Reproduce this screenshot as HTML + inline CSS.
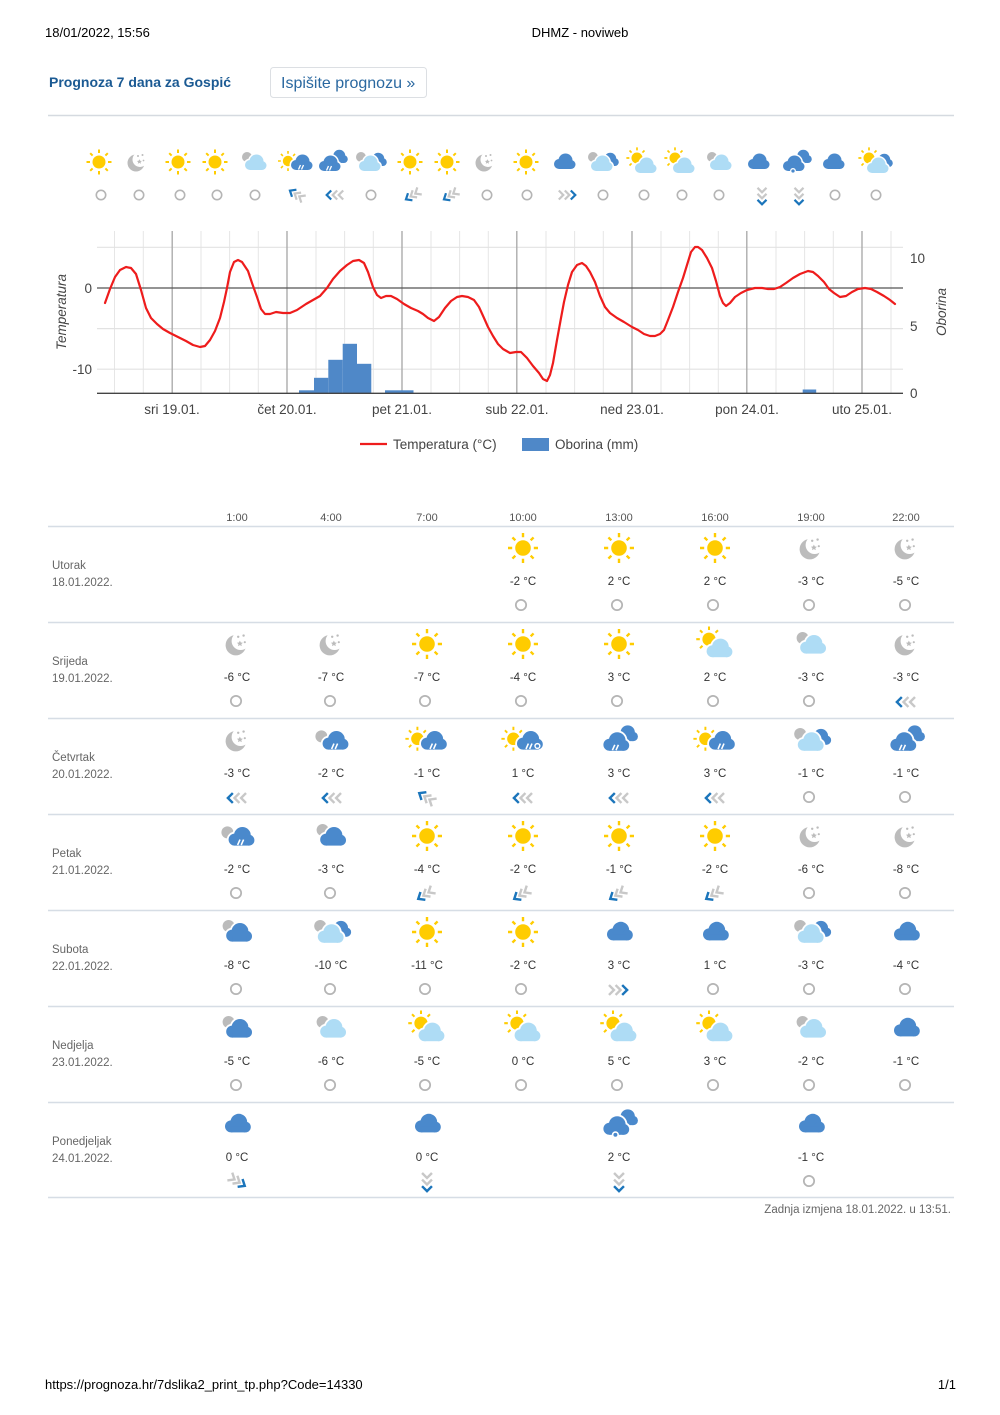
<!DOCTYPE html>
<html><head><meta charset="utf-8"><style>
html,body{margin:0;padding:0;background:#fff;}
svg{display:block;}
.f{font-family:"Liberation Sans",Arial,sans-serif;}
.tt{font-family:"Liberation Sans",Arial,sans-serif;font-size:11.5px;fill:#333;text-anchor:middle;}
.dl{font-family:"Liberation Sans",Arial,sans-serif;font-size:11.5px;fill:#666;}
.hd{font-family:"Liberation Sans",Arial,sans-serif;font-size:11px;fill:#555;text-anchor:middle;}
.ax{font-family:"Liberation Sans",Arial,sans-serif;font-size:13.5px;fill:#444;}
</style></head><body>
<svg width="1000" height="1415" viewBox="0 0 1000 1415" xmlns="http://www.w3.org/2000/svg">
<defs>
<g id="cs"><circle cx="-5" cy="2" r="5"/><circle cx="1.5" cy="-1.5" r="7"/><circle cx="7" cy="2.5" r="4.5"/><rect x="-5" y="2" width="12" height="5"/></g>
<g id="sunb"><circle r="6.5" fill="#ffcc00"/><path d="M0 -9V-12.5M0 9V12.5M-9 0H-12.5M9 0H12.5M6.4 6.4L8.8 8.8M-6.4 6.4L-8.8 8.8M6.4 -6.4L8.8 -8.8M-6.4 -6.4L-8.8 -8.8" stroke="#ffcc00" stroke-width="2" fill="none"/></g>
<g id="rain" stroke="#fff" stroke-width="1.3" fill="none"><path d="M-2.5 6.5L-0.5 2M0.5 6.5L2.5 2"/></g>
<g id="cwl"><use href="#cs" fill="#fff" stroke="#fff" stroke-width="3"/><use href="#cs" fill="#aedcf5"/></g>
<g id="cwb"><use href="#cs" fill="#fff" stroke="#fff" stroke-width="3"/><use href="#cs" fill="#4a89cc"/></g>

<g id="i_sun"><use href="#sunb"/></g>
<g id="i_moon"><circle cx="-1" cy="1" r="8.5" fill="#bcbcbc"/><circle cx="3" cy="-2.5" r="7.5" fill="#fff"/><path d="M2.4 -2.8l0.8 1.6 1.7 0.2 -1.3 1.1 0.4 1.7 -1.6 -0.9 -1.6 0.9 0.4 -1.7 -1.3 -1.1 1.7 -0.2z" fill="#bcbcbc"/><circle cx="1" cy="-6" r="1" fill="#bcbcbc"/><circle cx="5.5" cy="-7" r="1" fill="#bcbcbc"/><circle cx="6.5" cy="-1.5" r="0.9" fill="#bcbcbc"/></g>
<g id="i_blue"><use href="#cs" fill="#4a89cc"/></g>
<g id="i_greyLight"><circle cx="-7" cy="-5" r="5" fill="#bbb"/><g transform="translate(1,1)"><use href="#cwl"/></g></g>
<g id="i_greyBlue"><circle cx="-7" cy="-5" r="5" fill="#bbb"/><g transform="translate(1,1)"><use href="#cwb"/></g></g>
<g id="i_greyBlueRain"><circle cx="-8" cy="-3" r="5" fill="#bbb"/><g transform="translate(3,1)"><use href="#cwb"/><use href="#rain"/></g></g>
<g id="i_sunBlueRain"><g transform="translate(-8,-1) scale(0.8)"><use href="#sunb"/></g><g transform="translate(5,1)"><use href="#cwb"/><use href="#rain"/></g></g>
<g id="i_sunBlueRainSnow"><g transform="translate(-8,-1) scale(0.8)"><use href="#sunb"/></g><g transform="translate(5,1)"><use href="#cwb"/><use href="#rain"/><circle cx="7" cy="4" r="2" fill="#4a89cc" stroke="#fff" stroke-width="1.2"/></g></g>
<g id="i_doubleRain"><g transform="translate(6,-5) scale(0.85)"><use href="#cs" fill="#4a89cc"/></g><g transform="translate(-3,2)"><use href="#cwb"/><use href="#rain"/></g></g>
<g id="i_snow"><g transform="translate(6,-5) scale(0.85)"><use href="#cs" fill="#4a89cc"/></g><g transform="translate(-3,2)"><use href="#cwb"/><circle cx="0" cy="7" r="2.3" fill="#4a89cc" stroke="#fff" stroke-width="1.3"/></g></g>
<g id="i_greyLightBlue"><circle cx="-9" cy="-5" r="5" fill="#bbb"/><g transform="translate(7,-2) scale(0.85)"><use href="#cs" fill="#4a89cc"/></g><g transform="translate(-1,2)"><use href="#cwl"/></g></g>
<g id="i_sunLight"><g transform="translate(-5,-4) scale(0.85)"><use href="#sunb"/></g><g transform="translate(3,4)"><use href="#cwl"/></g></g>
<g id="i_sunLightBlue"><g transform="translate(-6,-4) scale(0.85)"><use href="#sunb"/></g><g transform="translate(8,-1) scale(0.85)"><use href="#cs" fill="#4a89cc"/></g><g transform="translate(2,4)"><use href="#cwl"/></g></g>

<g id="wc"><circle r="4.7" fill="none" stroke="#b5b5b5" stroke-width="1.6"/></g>
<g id="wl" fill="none" stroke-width="2.2"><polyline points="-3.8,-4.5 -8.3,0 -3.8,4.5" stroke="#1b75bb"/><polyline points="2.2,-4.5 -2.3,0 2.2,4.5" stroke="#c8c8c8"/><polyline points="8.2,-4.5 3.7,0 8.2,4.5" stroke="#c8c8c8"/></g>
<g id="wln" fill="none" stroke-width="2.2"><polyline points="-3.3,-4.2 -8.3,0 -3.3,4.2" stroke="#1b75bb"/><polyline points="2.2,-4.2 -2.8,0 2.2,4.2" stroke="#c8c8c8"/><polyline points="7.7,-4.2 2.7,0 7.7,4.2" stroke="#c8c8c8"/></g>
<g id="wr"><use href="#wl" transform="scale(-1,1)"/></g>
<g id="wd"><use href="#wl" transform="rotate(-90)"/></g>
<g id="wsw"><use href="#wln" transform="rotate(-32)"/></g>
<g id="wnw"><use href="#wln" transform="rotate(32)"/></g>
<g id="wse"><use href="#wln" transform="rotate(212)"/></g>
</defs>

<text class="f" x="45" y="37" font-size="13" fill="#000">18/01/2022, 15:56</text>
<text class="f" x="580" y="37" font-size="13" fill="#000" text-anchor="middle">DHMZ - noviweb</text>

<text class="f" x="49" y="87" font-size="14" font-weight="bold" fill="#1b5a93">Prognoza 7 dana za Gospić</text>
<rect x="270.5" y="67.5" width="156" height="30" rx="3" fill="#fff" stroke="#dcdfe3"/>
<text class="f" x="281" y="88" font-size="16" fill="#2a68a0">Ispišite prognozu »</text>
<line x1="48" y1="115.5" x2="954" y2="115.5" stroke="#d5dae0" stroke-width="1.5"/>

<g>
<use href="#i_sun" transform="translate(99,162)"/>
<use href="#i_moon" transform="translate(137,162)"/>
<use href="#i_sun" transform="translate(178,162)"/>
<use href="#i_sun" transform="translate(215,162)"/>
<use href="#i_greyLight" transform="translate(254,162)"/>
<use href="#i_sunBlueRain" transform="translate(296,162)"/>
<use href="#i_doubleRain" transform="translate(332,162)"/>
<use href="#i_greyLightBlue" transform="translate(370,162)"/>
<use href="#i_sun" transform="translate(410,162)"/>
<use href="#i_sun" transform="translate(447,162)"/>
<use href="#i_moon" transform="translate(485,162)"/>
<use href="#i_sun" transform="translate(526,162)"/>
<use href="#i_blue" transform="translate(564,162)"/>
<use href="#i_greyLightBlue" transform="translate(602,162)"/>
<use href="#i_sunLight" transform="translate(642,162)"/>
<use href="#i_sunLight" transform="translate(680,162)"/>
<use href="#i_greyLight" transform="translate(719,162)"/>
<use href="#i_blue" transform="translate(758,162)"/>
<use href="#i_snow" transform="translate(796,162)"/>
<use href="#i_blue" transform="translate(833,162)"/>
<use href="#i_sunLightBlue" transform="translate(875,162)"/>

<use href="#wc" transform="translate(101,195)"/>
<use href="#wc" transform="translate(139,195)"/>
<use href="#wc" transform="translate(180,195)"/>
<use href="#wc" transform="translate(217,195)"/>
<use href="#wc" transform="translate(255,195)"/>
<use href="#wnw" transform="translate(297,195)"/>
<use href="#wl" transform="translate(335,195)"/>
<use href="#wc" transform="translate(371,195)"/>
<use href="#wsw" transform="translate(413,195)"/>
<use href="#wsw" transform="translate(451,195)"/>
<use href="#wc" transform="translate(487,195)"/>
<use href="#wc" transform="translate(527,195)"/>
<use href="#wr" transform="translate(567,195)"/>
<use href="#wc" transform="translate(603,195)"/>
<use href="#wc" transform="translate(644,195)"/>
<use href="#wc" transform="translate(682,195)"/>
<use href="#wc" transform="translate(719,195)"/>
<use href="#wd" transform="translate(762,196)"/>
<use href="#wd" transform="translate(799,196)"/>
<use href="#wc" transform="translate(835,195)"/>
<use href="#wc" transform="translate(876,195)"/>
</g>

<g>
<g stroke="#e6e6e6" stroke-width="1">
<line x1="114.5" y1="231" x2="114.5" y2="393"/><line x1="143.3" y1="231" x2="143.3" y2="393"/>
<line x1="201" y1="231" x2="201" y2="393"/><line x1="229.6" y1="231" x2="229.6" y2="393"/><line x1="258.3" y1="231" x2="258.3" y2="393"/>
<line x1="316" y1="231" x2="316" y2="393"/><line x1="344.6" y1="231" x2="344.6" y2="393"/><line x1="373.3" y1="231" x2="373.3" y2="393"/>
<line x1="431" y1="231" x2="431" y2="393"/><line x1="459.6" y1="231" x2="459.6" y2="393"/><line x1="488.3" y1="231" x2="488.3" y2="393"/>
<line x1="546" y1="231" x2="546" y2="393"/><line x1="574.6" y1="231" x2="574.6" y2="393"/><line x1="603.3" y1="231" x2="603.3" y2="393"/>
<line x1="661" y1="231" x2="661" y2="393"/><line x1="689.6" y1="231" x2="689.6" y2="393"/><line x1="718.3" y1="231" x2="718.3" y2="393"/>
<line x1="776" y1="231" x2="776" y2="393"/><line x1="804.6" y1="231" x2="804.6" y2="393"/><line x1="833.3" y1="231" x2="833.3" y2="393"/>
<line x1="891" y1="231" x2="891" y2="393"/>
</g>
<g stroke="#e2e2e2" stroke-width="1.2">
<line x1="97" y1="247.3" x2="903" y2="247.3"/>
<line x1="97" y1="328.6" x2="903" y2="328.6"/>
<line x1="97" y1="369.2" x2="903" y2="369.2"/>
</g>
<g stroke="#acacac" stroke-width="1.4">
<line x1="172.2" y1="231" x2="172.2" y2="393"/>
<line x1="287" y1="231" x2="287" y2="393"/>
<line x1="402" y1="231" x2="402" y2="393"/>
<line x1="516.8" y1="231" x2="516.8" y2="393"/>
<line x1="632" y1="231" x2="632" y2="393"/>
<line x1="746.8" y1="231" x2="746.8" y2="393"/>
<line x1="862" y1="231" x2="862" y2="393"/>
</g>
<g fill="#4f88c8">
<rect x="299" y="390.3" width="15" height="3"/>
<rect x="314" y="377.8" width="14.3" height="15.5"/>
<rect x="328.3" y="359.8" width="14.4" height="33.5"/>
<rect x="342.7" y="343.8" width="14.3" height="49.5"/>
<rect x="357" y="363.8" width="14.3" height="29.5"/>
<rect x="385" y="390.3" width="28.5" height="3"/>
<rect x="802.7" y="389.5" width="13.5" height="3.8"/>
</g>
<line x1="97" y1="288" x2="903" y2="288" stroke="#555" stroke-width="1.3"/>
<line x1="97" y1="393.3" x2="903" y2="393.3" stroke="#444" stroke-width="1.4"/>
<polyline fill="none" stroke="#ee1c1c" stroke-width="2.2" stroke-linejoin="round" stroke-linecap="round" points="105,303 110,289 115,277 120,270 126,267 131,268 136,274 141,290 146,308 151,318 157,324 163,329 170,333 178,337 186,341 193,345 200,347 205,346 210,340 215,331 220,318 224,302 227,288 230,272 234,262 238,260 242,262 248,271 252,283 257,297 261,309 265,314 270,314 276,312 283,313 290,313 297,310 306,304 313,300 320,296 327,288 333,279 340,271 347,265 353,261 359,260 364,263 368,272 373,287 377,295 381,298 386,296 391,296 397,299 404,304 411,308 418,311 423,314 428,318 434,321 439,317 445,308 451,301 457,297 462,296 468,297 474,300 479,307 484,318 488,327 493,336 498,344 503,349 510,353 516,352 521,352 527,358 533,366 539,373 543,379 547,381 550,375 553,363 557,340 561,318 564,302 568,285 572,272 577,265 582,263 586,266 590,272 595,282 600,296 605,307 610,313 617,318 624,322 632,327 638,330 644,334 650,336 655,336 660,334 664,330 668,320 673,307 678,292 683,278 687,265 691,252 695,247 698,247 702,250 707,258 712,268 716,281 720,296 723,303 726,306 730,303 735,297 741,293 747,290 755,288 762,288 768,289 774,289 780,287 786,283 793,278 800,274 808,271 813,272 818,276 824,282 829,289 834,293 840,297 846,296 852,292 858,289 865,288 871,289 877,292 884,296 890,300 895,304"/>
<text class="ax" x="92" y="293" text-anchor="end">0</text>
<text class="ax" x="92" y="374" text-anchor="end">-10</text>
<text class="ax" x="910" y="263">10</text>
<text class="ax" x="910" y="331">5</text>
<text class="ax" x="910" y="398">0</text>
<text class="ax" transform="translate(66,312) rotate(-90)" text-anchor="middle" font-style="italic" fill="#333">Temperatura</text>
<text class="ax" transform="translate(946,312) rotate(-90)" text-anchor="middle" font-style="italic" fill="#333">Oborina</text>
<g class="ax" fill="#333">
<text x="172" y="414" text-anchor="middle">sri 19.01.</text>
<text x="287" y="414" text-anchor="middle">čet 20.01.</text>
<text x="402" y="414" text-anchor="middle">pet 21.01.</text>
<text x="517" y="414" text-anchor="middle">sub 22.01.</text>
<text x="632" y="414" text-anchor="middle">ned 23.01.</text>
<text x="747" y="414" text-anchor="middle">pon 24.01.</text>
<text x="862" y="414" text-anchor="middle">uto 25.01.</text>
</g>
<line x1="360" y1="444" x2="387" y2="444" stroke="#ee1c1c" stroke-width="2.2"/>
<text class="ax" x="393" y="449" fill="#222">Temperatura (°C)</text>
<rect x="522" y="438" width="27" height="13" fill="#4f88c8"/>
<text class="ax" x="555" y="449" fill="#222">Oborina (mm)</text>
</g>

<text class="hd" x="237" y="521">1:00</text>
<text class="hd" x="331" y="521">4:00</text>
<text class="hd" x="427" y="521">7:00</text>
<text class="hd" x="523" y="521">10:00</text>
<text class="hd" x="619" y="521">13:00</text>
<text class="hd" x="715" y="521">16:00</text>
<text class="hd" x="811" y="521">19:00</text>
<text class="hd" x="906" y="521">22:00</text>

<g stroke="#d6dde5" stroke-width="1.6">
<line x1="48" y1="526.5" x2="954" y2="526.5"/>
<line x1="48" y1="622.5" x2="954" y2="622.5"/>
<line x1="48" y1="718.5" x2="954" y2="718.5"/>
<line x1="48" y1="814.5" x2="954" y2="814.5"/>
<line x1="48" y1="910.5" x2="954" y2="910.5"/>
<line x1="48" y1="1006.5" x2="954" y2="1006.5"/>
<line x1="48" y1="1102.5" x2="954" y2="1102.5"/>
<line x1="48" y1="1197.5" x2="954" y2="1197.5"/>
</g>

<text class="dl" x="52" y="569">Utorak</text><text class="dl" x="52" y="586">18.01.2022.</text>
<text class="dl" x="52" y="665">Srijeda</text><text class="dl" x="52" y="682">19.01.2022.</text>
<text class="dl" x="52" y="761">Četvrtak</text><text class="dl" x="52" y="778">20.01.2022.</text>
<text class="dl" x="52" y="857">Petak</text><text class="dl" x="52" y="874">21.01.2022.</text>
<text class="dl" x="52" y="953">Subota</text><text class="dl" x="52" y="970">22.01.2022.</text>
<text class="dl" x="52" y="1049">Nedjelja</text><text class="dl" x="52" y="1066">23.01.2022.</text>
<text class="dl" x="52" y="1145">Ponedjeljak</text><text class="dl" x="52" y="1162">24.01.2022.</text>

<use href="#i_sun" transform="translate(523,548) scale(1.2)"/><text class="tt" x="523" y="585">-2 °C</text><use href="#wc" transform="translate(521,605) scale(1.1)"/>
<use href="#i_sun" transform="translate(619,548) scale(1.2)"/><text class="tt" x="619" y="585">2 °C</text><use href="#wc" transform="translate(617,605) scale(1.1)"/>
<use href="#i_sun" transform="translate(715,548) scale(1.2)"/><text class="tt" x="715" y="585">2 °C</text><use href="#wc" transform="translate(713,605) scale(1.1)"/>
<use href="#i_moon" transform="translate(811,548) scale(1.2)"/><text class="tt" x="811" y="585">-3 °C</text><use href="#wc" transform="translate(809,605) scale(1.1)"/>
<use href="#i_moon" transform="translate(906,548) scale(1.2)"/><text class="tt" x="906" y="585">-5 °C</text><use href="#wc" transform="translate(905,605) scale(1.1)"/>

<use href="#i_moon" transform="translate(237,644) scale(1.2)"/><text class="tt" x="237" y="681">-6 °C</text><use href="#wc" transform="translate(236,701) scale(1.1)"/>
<use href="#i_moon" transform="translate(331,644) scale(1.2)"/><text class="tt" x="331" y="681">-7 °C</text><use href="#wc" transform="translate(330,701) scale(1.1)"/>
<use href="#i_sun" transform="translate(427,644) scale(1.2)"/><text class="tt" x="427" y="681">-7 °C</text><use href="#wc" transform="translate(425,701) scale(1.1)"/>
<use href="#i_sun" transform="translate(523,644) scale(1.2)"/><text class="tt" x="523" y="681">-4 °C</text><use href="#wc" transform="translate(521,701) scale(1.1)"/>
<use href="#i_sun" transform="translate(619,644) scale(1.2)"/><text class="tt" x="619" y="681">3 °C</text><use href="#wc" transform="translate(617,701) scale(1.1)"/>
<use href="#i_sunLight" transform="translate(715,644) scale(1.2)"/><text class="tt" x="715" y="681">2 °C</text><use href="#wc" transform="translate(713,701) scale(1.1)"/>
<use href="#i_greyLight" transform="translate(811,644) scale(1.2)"/><text class="tt" x="811" y="681">-3 °C</text><use href="#wc" transform="translate(809,701) scale(1.1)"/>
<use href="#i_moon" transform="translate(906,644) scale(1.2)"/><text class="tt" x="906" y="681">-3 °C</text><use href="#wl" transform="translate(906,702) scale(1.1)"/>

<use href="#i_moon" transform="translate(237,740) scale(1.2)"/><text class="tt" x="237" y="777">-3 °C</text><use href="#wl" transform="translate(237,798) scale(1.1)"/>
<use href="#i_greyBlueRain" transform="translate(331,740) scale(1.2)"/><text class="tt" x="331" y="777">-2 °C</text><use href="#wl" transform="translate(332,798) scale(1.1)"/>
<use href="#i_sunBlueRain" transform="translate(427,740) scale(1.2)"/><text class="tt" x="427" y="777">-1 °C</text><use href="#wnw" transform="translate(427,798) scale(1.1)"/>
<use href="#i_sunBlueRainSnow" transform="translate(523,740) scale(1.2)"/><text class="tt" x="523" y="777">1 °C</text><use href="#wl" transform="translate(523,798) scale(1.1)"/>
<use href="#i_doubleRain" transform="translate(619,740) scale(1.2)"/><text class="tt" x="619" y="777">3 °C</text><use href="#wl" transform="translate(619,798) scale(1.1)"/>
<use href="#i_sunBlueRain" transform="translate(715,740) scale(1.2)"/><text class="tt" x="715" y="777">3 °C</text><use href="#wl" transform="translate(715,798) scale(1.1)"/>
<use href="#i_greyLightBlue" transform="translate(811,740) scale(1.2)"/><text class="tt" x="811" y="777">-1 °C</text><use href="#wc" transform="translate(809,797) scale(1.1)"/>
<use href="#i_doubleRain" transform="translate(906,740) scale(1.2)"/><text class="tt" x="906" y="777">-1 °C</text><use href="#wc" transform="translate(905,797) scale(1.1)"/>

<use href="#i_greyBlueRain" transform="translate(237,836) scale(1.2)"/><text class="tt" x="237" y="873">-2 °C</text><use href="#wc" transform="translate(236,893) scale(1.1)"/>
<use href="#i_greyBlue" transform="translate(331,836) scale(1.2)"/><text class="tt" x="331" y="873">-3 °C</text><use href="#wc" transform="translate(330,893) scale(1.1)"/>
<use href="#i_sun" transform="translate(427,836) scale(1.2)"/><text class="tt" x="427" y="873">-4 °C</text><use href="#wsw" transform="translate(426,894) scale(1.1)"/>
<use href="#i_sun" transform="translate(523,836) scale(1.2)"/><text class="tt" x="523" y="873">-2 °C</text><use href="#wsw" transform="translate(522,894) scale(1.1)"/>
<use href="#i_sun" transform="translate(619,836) scale(1.2)"/><text class="tt" x="619" y="873">-1 °C</text><use href="#wsw" transform="translate(618,894) scale(1.1)"/>
<use href="#i_sun" transform="translate(715,836) scale(1.2)"/><text class="tt" x="715" y="873">-2 °C</text><use href="#wsw" transform="translate(714,894) scale(1.1)"/>
<use href="#i_moon" transform="translate(811,836) scale(1.2)"/><text class="tt" x="811" y="873">-6 °C</text><use href="#wc" transform="translate(809,893) scale(1.1)"/>
<use href="#i_moon" transform="translate(906,836) scale(1.2)"/><text class="tt" x="906" y="873">-8 °C</text><use href="#wc" transform="translate(905,893) scale(1.1)"/>

<use href="#i_greyBlue" transform="translate(237,932) scale(1.2)"/><text class="tt" x="237" y="969">-8 °C</text><use href="#wc" transform="translate(236,989) scale(1.1)"/>
<use href="#i_greyLightBlue" transform="translate(331,932) scale(1.2)"/><text class="tt" x="331" y="969">-10 °C</text><use href="#wc" transform="translate(330,989) scale(1.1)"/>
<use href="#i_sun" transform="translate(427,932) scale(1.2)"/><text class="tt" x="427" y="969">-11 °C</text><use href="#wc" transform="translate(425,989) scale(1.1)"/>
<use href="#i_sun" transform="translate(523,932) scale(1.2)"/><text class="tt" x="523" y="969">-2 °C</text><use href="#wc" transform="translate(521,989) scale(1.1)"/>
<use href="#i_blue" transform="translate(619,932) scale(1.2)"/><text class="tt" x="619" y="969">3 °C</text><use href="#wr" transform="translate(618,990) scale(1.1)"/>
<use href="#i_blue" transform="translate(715,932) scale(1.2)"/><text class="tt" x="715" y="969">1 °C</text><use href="#wc" transform="translate(713,989) scale(1.1)"/>
<use href="#i_greyLightBlue" transform="translate(811,932) scale(1.2)"/><text class="tt" x="811" y="969">-3 °C</text><use href="#wc" transform="translate(809,989) scale(1.1)"/>
<use href="#i_blue" transform="translate(906,932) scale(1.2)"/><text class="tt" x="906" y="969">-4 °C</text><use href="#wc" transform="translate(905,989) scale(1.1)"/>

<use href="#i_greyBlue" transform="translate(237,1028) scale(1.2)"/><text class="tt" x="237" y="1065">-5 °C</text><use href="#wc" transform="translate(236,1085) scale(1.1)"/>
<use href="#i_greyLight" transform="translate(331,1028) scale(1.2)"/><text class="tt" x="331" y="1065">-6 °C</text><use href="#wc" transform="translate(330,1085) scale(1.1)"/>
<use href="#i_sunLight" transform="translate(427,1028) scale(1.2)"/><text class="tt" x="427" y="1065">-5 °C</text><use href="#wc" transform="translate(425,1085) scale(1.1)"/>
<use href="#i_sunLight" transform="translate(523,1028) scale(1.2)"/><text class="tt" x="523" y="1065">0 °C</text><use href="#wc" transform="translate(521,1085) scale(1.1)"/>
<use href="#i_sunLight" transform="translate(619,1028) scale(1.2)"/><text class="tt" x="619" y="1065">5 °C</text><use href="#wc" transform="translate(617,1085) scale(1.1)"/>
<use href="#i_sunLight" transform="translate(715,1028) scale(1.2)"/><text class="tt" x="715" y="1065">3 °C</text><use href="#wc" transform="translate(713,1085) scale(1.1)"/>
<use href="#i_greyLight" transform="translate(811,1028) scale(1.2)"/><text class="tt" x="811" y="1065">-2 °C</text><use href="#wc" transform="translate(809,1085) scale(1.1)"/>
<use href="#i_blue" transform="translate(906,1028) scale(1.2)"/><text class="tt" x="906" y="1065">-1 °C</text><use href="#wc" transform="translate(905,1085) scale(1.1)"/>

<use href="#i_blue" transform="translate(237,1124) scale(1.2)"/><text class="tt" x="237" y="1161">0 °C</text><use href="#wse" transform="translate(237,1181) scale(1.1)"/>
<use href="#i_blue" transform="translate(427,1124) scale(1.2)"/><text class="tt" x="427" y="1161">0 °C</text><use href="#wd" transform="translate(427,1182) scale(1.1)"/>
<use href="#i_snow" transform="translate(619,1124) scale(1.2)"/><text class="tt" x="619" y="1161">2 °C</text><use href="#wd" transform="translate(619,1182) scale(1.1)"/>
<use href="#i_blue" transform="translate(811,1124) scale(1.2)"/><text class="tt" x="811" y="1161">-1 °C</text><use href="#wc" transform="translate(809,1181) scale(1.1)"/>

<text class="dl" x="951" y="1213" text-anchor="end" fill="#555">Zadnja izmjena 18.01.2022. u 13:51.</text>

<text class="f" x="45" y="1389" font-size="13" fill="#000">https://prognoza.hr/7dslika2_print_tp.php?Code=14330</text>
<text class="f" x="956" y="1389" font-size="13" fill="#000" text-anchor="end">1/1</text>
</svg>
</body></html>
